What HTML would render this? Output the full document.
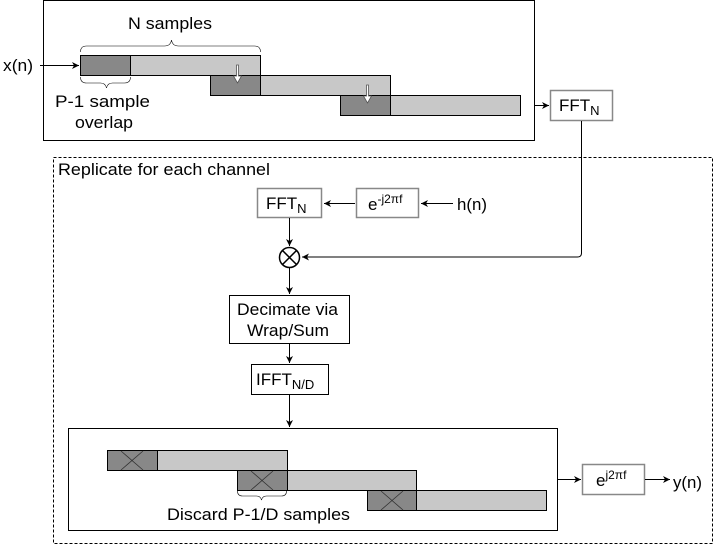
<!DOCTYPE html>
<html><head><style>body{margin:0;background:#fff}svg{display:block}text{font-family:"Liberation Sans",sans-serif;fill:#000}</style></head><body>
<svg width="715" height="549" viewBox="0 0 715 549" xmlns="http://www.w3.org/2000/svg">
<defs><marker id="a" markerWidth="8" markerHeight="8" refX="7" refY="4" orient="auto" markerUnits="userSpaceOnUse"><path d="M0,0.5 L7,4 L0,7.5 L2,4 Z" fill="#000"/></marker></defs>
<g font-size="17">
<rect x="43.5" y="0.5" width="491" height="140" fill="none" stroke="#000"/>
<rect x="80.5" y="55.5" width="180" height="20" fill="#c8c8c8" stroke="#000"/><rect x="80.5" y="55.5" width="50" height="20" fill="#888" stroke="#000"/>
<rect x="210.5" y="75.5" width="180" height="20" fill="#c8c8c8" stroke="#000"/><rect x="210.5" y="75.5" width="50" height="20" fill="#888" stroke="#000"/>
<rect x="340.5" y="95.5" width="180" height="20" fill="#c8c8c8" stroke="#000"/><rect x="340.5" y="95.5" width="50" height="20" fill="#888" stroke="#000"/>
<path d="M236.5,65 v11 h-3 l4,7 l4,-7 h-3 v-11z" fill="#fff" stroke="#555" stroke-width="0.8"/>
<path d="M366.5,85 v11 h-3 l4,7 l4,-7 h-3 v-11z" fill="#fff" stroke="#555" stroke-width="0.8"/>
<path d="M80.5,52 q0,-6 6,-6 h78 q6,0 7,-6 q1,6 7,6 h76 q6,0 6,6" fill="none" stroke="#000" stroke-width="0.6"/>
<path d="M80.5,77 q0,6 6,6 h14 q5,0 6,5 q1,-5 6,-5 h12 q6,0 6,-6" fill="none" stroke="#000" stroke-width="0.6"/>
<text x="128" y="29" textLength="84" lengthAdjust="spacingAndGlyphs">N samples</text>
<text x="55" y="107" textLength="95" lengthAdjust="spacingAndGlyphs">P-1 sample</text><text x="75" y="128" textLength="58" lengthAdjust="spacingAndGlyphs">overlap</text>
<text x="3" y="71" textLength="30" lengthAdjust="spacingAndGlyphs">x(n)</text>
<line x1="40" y1="65.5" x2="79" y2="65.5" stroke="#000" marker-end="url(#a)"/>
<line x1="535" y1="105.5" x2="549" y2="105.5" stroke="#000" marker-end="url(#a)"/>
<rect x="550.5" y="90.5" width="62" height="30" fill="#fff" stroke="#888" stroke-width="1.5"/>
<text x="559" y="111">FFT<tspan font-size="13" dy="4">N</tspan></text>
<rect x="53.5" y="157.5" width="659" height="386" fill="none" stroke="#000" stroke-dasharray="3,2"/>
<text x="58" y="175" textLength="212" lengthAdjust="spacingAndGlyphs">Replicate for each channel</text>
<path d="M581.5,121 V253 q0,4 -4,4 H302" fill="none" stroke="#000" marker-end="url(#a)"/>
<rect x="257.5" y="188.5" width="64" height="29" fill="#fff" stroke="#888" stroke-width="1.5"/>
<text x="266" y="209">FFT<tspan font-size="13" dy="4">N</tspan></text>
<rect x="356.5" y="188.5" width="62" height="29" fill="#fff" stroke="#888" stroke-width="1.5"/>
<text x="368" y="210">e<tspan font-size="12" dy="-7">-j2πf</tspan></text>
<line x1="355" y1="203.5" x2="324" y2="203.5" stroke="#000" marker-end="url(#a)"/>
<line x1="453" y1="203.5" x2="421" y2="203.5" stroke="#000" marker-end="url(#a)"/>
<text x="457" y="210" textLength="30" lengthAdjust="spacingAndGlyphs">h(n)</text>
<line x1="289.5" y1="218" x2="289.5" y2="246" stroke="#000" marker-end="url(#a)"/>
<circle cx="289.5" cy="257.5" r="10" fill="#fff" stroke="#000" stroke-width="1.5"/>
<path d="M282.5,250.5 L296.5,264.5 M296.5,250.5 L282.5,264.5" stroke="#000" stroke-width="1.5"/>
<line x1="289.5" y1="268" x2="289.5" y2="294" stroke="#000" marker-end="url(#a)"/>
<rect x="229.5" y="295.5" width="120" height="48" fill="#fff" stroke="#000"/>
<text x="237" y="315" textLength="101" lengthAdjust="spacingAndGlyphs">Decimate via</text><text x="247" y="336" textLength="82" lengthAdjust="spacingAndGlyphs">Wrap/Sum</text>
<line x1="289.5" y1="344" x2="289.5" y2="363" stroke="#000" marker-end="url(#a)"/>
<rect x="251.5" y="364.5" width="77" height="30" fill="#fff" stroke="#000"/>
<text x="256" y="385">IFFT<tspan font-size="13" dy="4">N/D</tspan></text>
<line x1="289.5" y1="395" x2="289.5" y2="427" stroke="#000" marker-end="url(#a)"/>
<rect x="68.5" y="428.5" width="489" height="102" fill="none" stroke="#000"/>
<rect x="107.5" y="450.5" width="180" height="20" fill="#c8c8c8" stroke="#000"/><rect x="107.5" y="450.5" width="50" height="20" fill="#888" stroke="#000"/>
<rect x="237.5" y="470.5" width="179" height="20" fill="#c8c8c8" stroke="#000"/><rect x="237.5" y="470.5" width="50" height="20" fill="#888" stroke="#000"/>
<rect x="367.5" y="490.5" width="179" height="20" fill="#c8c8c8" stroke="#000"/><rect x="367.5" y="490.5" width="49" height="20" fill="#888" stroke="#000"/>
<path d="M121,451 l22,19 M143,451 l-22,19 M251,471 l22,19 M273,471 l-22,19 M381,491 l22,19 M403,491 l-22,19" stroke="#333" stroke-width="0.8"/>
<path d="M237.5,491 q0,5 5,5 h14 q4,0 5,4 q1,-4 5,-4 h15 q5,0 5,-5" fill="none" stroke="#000" stroke-width="0.6"/>
<text x="167" y="520" textLength="183" lengthAdjust="spacingAndGlyphs">Discard P-1/D samples</text>
<line x1="558" y1="479.5" x2="581" y2="479.5" stroke="#000" marker-end="url(#a)"/>
<rect x="582.5" y="464.5" width="62" height="30" fill="#fff" stroke="#888" stroke-width="1.5"/>
<text x="596" y="486">e<tspan font-size="12" dy="-7">j2πf</tspan></text>
<line x1="645" y1="479.5" x2="670" y2="479.5" stroke="#000" marker-end="url(#a)"/>
<text x="673" y="488" textLength="29" lengthAdjust="spacingAndGlyphs">y(n)</text>
</g>
</svg>
</body></html>
